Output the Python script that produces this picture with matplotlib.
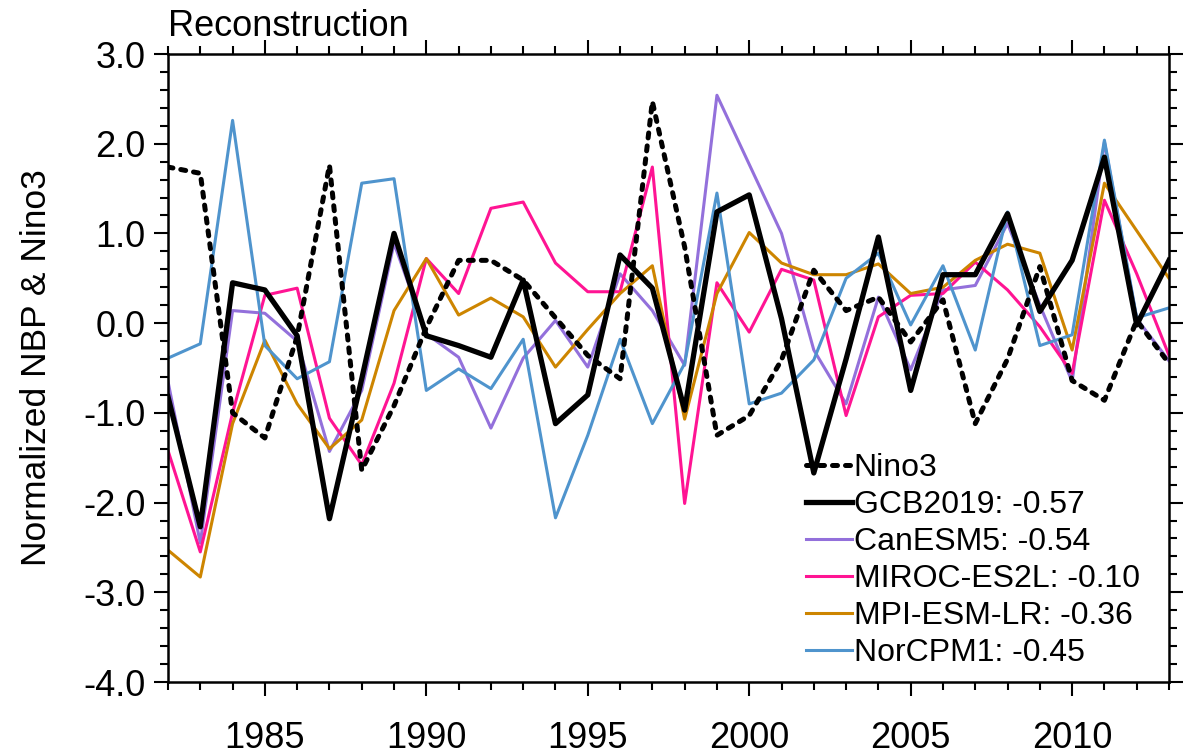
import numpy as np
import matplotlib
matplotlib.use("Agg")
import matplotlib.pyplot as plt
from matplotlib.ticker import MultipleLocator, FormatStrFormatter

plt.rcParams['font.family'] = ['Liberation Sans', 'DejaVu Sans']
plt.rcParams['axes.unicode_minus'] = False

years = list(range(1982, 2014))

nino3 = [1.74, 1.67, -1.00, -1.28, -0.15, 1.76, -1.64, -0.92, -0.05, 0.70,
         0.70, 0.48, 0.06, -0.36, -0.62, 2.47, 0.85, -1.25, -1.03, -0.41,
         0.59, 0.14, 0.29, -0.21, 0.26, -1.12, -0.40, 0.63, -0.64, -0.86,
         0.03, -0.45]
gcb2019 = [-0.82, -2.27, 0.45, 0.37, -0.14, -2.18, -0.62, 1.00, -0.14, -0.25,
           -0.38, 0.48, -1.12, -0.80, 0.76, 0.39, -0.97, 1.24, 1.43, 0.05,
           -1.67, -0.40, 0.96, -0.75, 0.54, 0.54, 1.22, 0.13, 0.70, 1.85,
           -0.02, 0.70]
canesm5 = [-0.65, -2.45, 0.14, 0.11, -0.20, -1.43, -0.75, 0.89, -0.12, -0.38,
           -1.17, -0.39, 0.03, -0.49, 0.55, 0.14, -0.47, 2.54, 1.77, 1.00,
           -0.30, -0.90, 0.29, -0.52, 0.37, 0.42, 1.11, 0.20, -0.65, 2.02,
           0.05, -0.42]
miroc = [-1.42, -2.55, -1.00, 0.31, 0.39, -1.06, -1.58, -0.67, 0.72, 0.33,
         1.28, 1.35, 0.67, 0.35, 0.35, 1.74, -2.01, 0.45, -0.10, 0.60,
         0.48, -1.03, 0.07, 0.31, 0.33, 0.68, 0.37, -0.04, -0.56, 1.37,
         0.55, -0.36]
mpi = [-2.53, -2.83, -1.12, -0.19, -0.90, -1.40, -1.08, 0.14, 0.72, 0.09,
       0.28, 0.07, -0.49, -0.07, 0.33, 0.64, -1.07, 0.33, 1.01, 0.67,
       0.54, 0.54, 0.66, 0.33, 0.40, 0.70, 0.88, 0.78, -0.30, 1.56,
       1.03, 0.50]
norcpm1 = [-0.39, -0.23, 2.26, -0.25, -0.62, -0.43, 1.56, 1.61, -0.75, -0.51,
           -0.73, -0.18, -2.17, -1.25, -0.18, -1.12, -0.45, 1.45, -0.90, -0.78,
           -0.41, 0.50, 0.78, -0.02, 0.64, -0.30, 1.24, -0.25, -0.13, 2.04,
           0.06, 0.17]

labels = ["Nino3", "GCB2019: -0.57", "CanESM5: -0.54", "MIROC-ES2L: -0.10",
          "MPI-ESM-LR: -0.36", "NorCPM1: -0.45"]

fig = plt.figure(figsize=(11.84, 7.55), dpi=100)
ax = fig.add_axes([168/1184, 1 - 682/755, 1001/1184, 628/755])

ax.plot(years, canesm5, color='#9370DB', lw=2.2, label=labels[2], zorder=2)
ax.plot(years, miroc, color='#FF1493', lw=2.2, label=labels[3], zorder=2)
ax.plot(years, mpi, color='#CD8500', lw=2.2, label=labels[4], zorder=2)
ax.plot(years, norcpm1, color='#4F94CD', lw=2.2, label=labels[5], zorder=2)
ax.plot(years, gcb2019, color='black', lw=3.8, label=labels[1], zorder=3)
ax.plot(years, nino3, color='black', lw=3.6, ls=(0, (1.0, 1.6)),
        dash_capstyle='round', label=labels[0], zorder=4)

ax.set_xlim(1982, 2013)
ax.set_ylim(-4.0, 3.0)
ax.xaxis.set_major_locator(MultipleLocator(5))
ax.xaxis.set_minor_locator(MultipleLocator(1))
ax.yaxis.set_major_locator(MultipleLocator(1.0))
ax.yaxis.set_minor_locator(MultipleLocator(0.2))
ax.yaxis.set_major_formatter(FormatStrFormatter('%.1f'))

for s in ax.spines.values():
    s.set_linewidth(1.8)
ax.tick_params(which='both', direction='out', top=True, right=True, width=1.5)
ax.tick_params(which='major', length=10, labelsize=26)
ax.tick_params(which='minor', length=5.5)
ax.tick_params(axis='x', which='major', pad=18)
ax.tick_params(axis='y', which='major', pad=6)

ax.set_ylabel("Normalized NBP & Nino3", fontsize=25.5, labelpad=22)
ax.set_title("Reconstruction", loc='left', fontsize=26, pad=13)

h, l = ax.get_legend_handles_labels()
order = [5, 4, 0, 1, 2, 3]
ax.legend([h[i] for i in order], [l[i] for i in order], loc='lower left',
          bbox_to_anchor=(0.637, 0.022), frameon=False, fontsize=23,
          handlelength=1.45, handletextpad=0.05, labelspacing=0.22,
          borderpad=0, borderaxespad=0)

fig.savefig("out.png", dpi=100)
